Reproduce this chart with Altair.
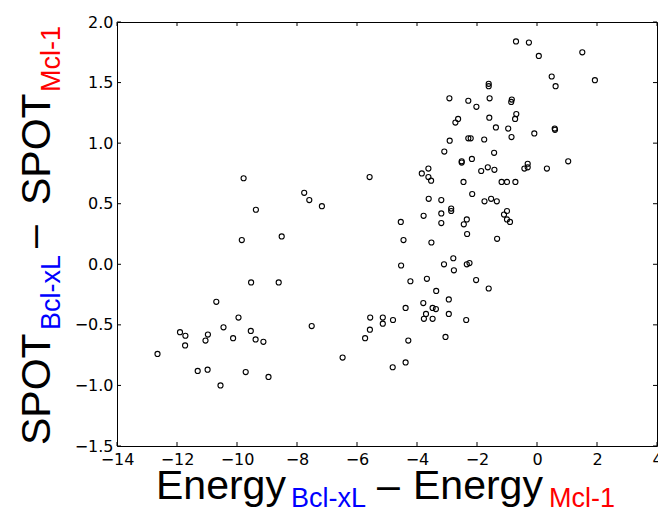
import altair as alt
import pandas as pd

# Scatter data (x: Energy difference, y: SPOT difference)
x_vals = [
    -0.70, -0.27, 0.06, 1.51, 0.49, 1.93, 0.62,
    -1.61, -1.61, -2.92, -2.29, -2.02, -1.58, -0.84, -0.86,
    -0.69, -0.73, -1.59, -2.72, -2.63, -1.37, -0.96, 0.59, 0.60,
    -0.85, -0.09, -2.91, -2.29, -2.21, -1.76, -3.09, -1.43,
    -2.51, -2.51, -2.17, 1.04, -3.62, -3.84, -3.62, -3.53,
    -2.45, -1.86, -1.64, -1.42, -0.42, -0.31, -0.31, 0.33,
    -1.18, -1.00, -0.72, -2.16, -1.75, -1.53, -1.34, -3.61, -3.19,
    -2.86, -2.86, -3.19, -3.78, -3.19, -4.54, -2.34, -2.44,
    -1.00, -1.10, -1.00, -0.90, -4.45, -3.52, -2.33, -1.33, -5.58,
    -9.78, -9.37, -9.84, -8.51, -7.76, -7.59, -7.17,
    -9.53, -8.61, -10.69, -9.95, -11.90, -11.72, -11.73, -10.97, -11.05,
    -10.45, -10.13, -9.54, -9.38, -9.12, -12.65, -11.31, -10.98, -9.71,
    -8.95, -10.55, -7.51, -6.48, -5.73, -5.56, -5.57,
    -4.53, -2.79, -3.10, -2.34, -2.25, -2.77, -4.22, -3.67, -2.03,
    -3.36, -1.61, -2.94, -3.79, -4.38, -3.70, -3.48, -3.37, -2.94,
    -3.77, -3.48, -2.36, -5.14, -5.14, -4.80, -4.29, -3.05, -4.81, -4.38,
]
y_vals = [
    1.84, 1.83, 1.72, 1.75, 1.55, 1.52, 1.47,
    1.49, 1.47, 1.37, 1.35, 1.30, 1.37, 1.36, 1.34,
    1.24, 1.20, 1.21, 1.17, 1.20, 1.13, 1.12, 1.12, 1.11,
    1.05, 1.08, 1.02, 1.04, 1.04, 1.03, 0.93, 0.92,
    0.85, 0.84, 0.87, 0.85, 0.79, 0.75, 0.72, 0.69,
    0.68, 0.77, 0.80, 0.78, 0.79, 0.83, 0.80, 0.79,
    0.68, 0.68, 0.68, 0.58, 0.52, 0.54, 0.52, 0.54, 0.53,
    0.46, 0.44, 0.42, 0.40, 0.34, 0.35, 0.37, 0.33,
    0.44, 0.41, 0.37, 0.35, 0.20, 0.18, 0.25, 0.21, 0.72,
    0.71, 0.45, 0.20, 0.23, 0.59, 0.53, 0.48,
    -0.15, -0.15, -0.31, -0.44, -0.56, -0.59, -0.67, -0.58, -0.63,
    -0.52, -0.61, -0.55, -0.62, -0.64, -0.74, -0.88, -0.87, -0.89,
    -0.93, -1.00, -0.51, -0.77, -0.61, -0.44, -0.54,
    -0.01, 0.05, 0.00, 0.00, 0.01, -0.05, -0.14, -0.12, -0.13,
    -0.22, -0.20, -0.29, -0.32, -0.36, -0.41, -0.36, -0.37, -0.41,
    -0.45, -0.45, -0.46, -0.44, -0.49, -0.46, -0.63, -0.60, -0.85, -0.81,
]
x_ticks = [-14, -12, -10, -8, -6, -4, -2, 0, 2, 4]
y_ticks = [-1.5, -1.0, -0.5, 0.0, 0.5, 1.0, 1.5, 2.0]

W, H = 540, 424
TICK = 4

xs = alt.Scale(domain=[-14, 4], nice=False, zero=False)
ys = alt.Scale(domain=[-1.5, 2.0], nice=False, zero=False)

df = pd.DataFrame({"x": x_vals, "y": y_vals})
xt = pd.DataFrame({"x": x_ticks})
yt = pd.DataFrame({"y": y_ticks})

axis_common = dict(
    grid=False, ticks=False, tickSize=0, domain=False, title="",
    labelFont="DejaVu Sans", labelFontSize=16, labelColor="black",
    labelFlush=False, labelOverlap=False, labelBound=False,
)
x_axis = alt.Axis(values=x_ticks, format="d", labelPadding=5, **axis_common)
y_axis = alt.Axis(values=y_ticks, format=".1f", labelPadding=4, **axis_common)

points = alt.Chart(df).mark_point(
    shape="circle", filled=False, size=26, stroke="black",
    strokeWidth=1.1, opacity=1,
).encode(
    x=alt.X("x:Q", scale=xs, axis=x_axis),
    y=alt.Y("y:Q", scale=ys, axis=y_axis),
)

rule_style = dict(color="black", strokeWidth=1)
tick_bottom = alt.Chart(xt).mark_rule(**rule_style).encode(
    x=alt.X("x:Q", scale=xs, axis=x_axis), y=alt.value(H), y2=alt.value(H - TICK))
tick_top = alt.Chart(xt).mark_rule(**rule_style).encode(
    x=alt.X("x:Q", scale=xs, axis=x_axis), y=alt.value(0), y2=alt.value(TICK))
tick_left = alt.Chart(yt).mark_rule(**rule_style).encode(
    y=alt.Y("y:Q", scale=ys, axis=y_axis), x=alt.value(0), x2=alt.value(TICK))
tick_right = alt.Chart(yt).mark_rule(**rule_style).encode(
    y=alt.Y("y:Q", scale=ys, axis=y_axis), x=alt.value(W), x2=alt.value(W - TICK))

FONT = "Liberation Sans"
MAIN, SUB = 41, 27


def seg(text, x, y, size, color, angle=0):
    return alt.Chart(pd.DataFrame({"t": [text]})).mark_text(
        font=FONT, fontSize=size, color=color, align="left",
        baseline="alphabetic", angle=angle,
    ).encode(x=alt.value(x), y=alt.value(y), text="t:N")


# x title: Energy_{Bcl-xL} – Energy_{Mcl-1}
XB = 477
xtitle = [
    seg("Energy", 39, XB, MAIN, "black"),
    seg("Bcl-xL", 174, XB + 8, SUB, "#0000ff"),
    seg("\u2013", 260, XB, MAIN, "black"),
    seg("Energy", 296, XB, MAIN, "black"),
    seg("Mcl-1", 432, XB + 8, SUB, "#ff0000"),
]
# y title: SPOT_{Bcl-xL} – SPOT_{Mcl-1}, rotated
ytitle = [
    seg("SPOT", -67, 423, MAIN, "black", 270),
    seg("Bcl-xL", -57, 308, SUB, "#0000ff", 270),
    seg("\u2013", -70, 226, MAIN, "black", 270),
    seg("SPOT", -67, 183, MAIN, "black", 270),
    seg("Mcl-1", -57, 70, SUB, "#ff0000", 270),
]

chart = alt.layer(
    points, tick_bottom, tick_top, tick_left, tick_right, *xtitle, *ytitle
).properties(
    width=W, height=H,
    autosize=alt.AutoSizeParams(type="none"),
    padding={"left": 109, "top": 14, "right": 1, "bottom": 62},
    background="white",
).configure_view(stroke="black", strokeWidth=1)

chart.save("out.html", embed_options={"renderer": "svg", "actions": False})
